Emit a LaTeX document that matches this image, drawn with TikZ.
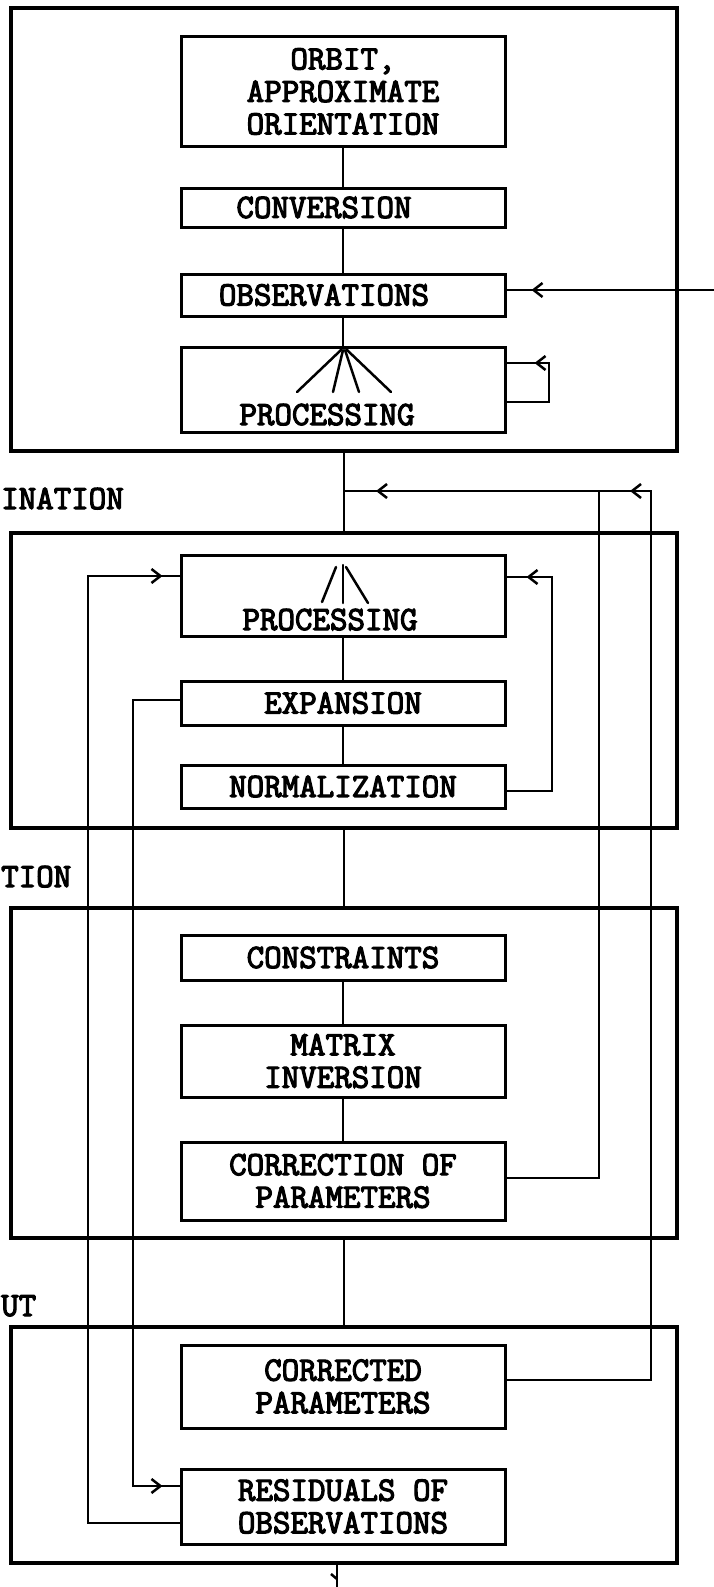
\documentclass[tikz,border=0pt]{standalone}
\usepackage{fontspec}
\usetikzlibrary{arrows.meta,decorations.markings}
\newfontfamily\twfam{Latin Modern Mono}[FakeBold=3.5]
\newcommand{\twfont}{\fontsize{34}{32.5}\twfam\selectfont}
\begin{document}
\begin{tikzpicture}[x=1pt,y=-1pt,
  boxst/.style={draw, line width=3pt, minimum width=324pt, inner sep=0pt,
    font=\twfont, align=center},
  outerst/.style={draw, line width=3.2pt, minimum width=666pt, inner sep=0pt},
  txtst/.style={inner sep=0pt, font=\twfont},
  conn/.style={line width=2.5pt},
  fanst/.style={line width=2.5pt, line cap=round},
  barbtip/.tip={Straight Barb[length=9pt,width=14pt]},
  arrat/.style={postaction={decorate}, decoration={markings,
    mark=at position #1 with {\arrow{barbtip}}}},
  arrtwo/.style 2 args={postaction={decorate}, decoration={markings,
    mark=at position #1 with {\arrow{barbtip}},
    mark=at position #2 with {\arrow{barbtip}}}}
]
\useasboundingbox (0,0) rectangle (714,1587);

% outer frames
\node[outerst, minimum height=443pt] (B1) at (344,229.5) {};
\node[outerst, minimum height=295pt] (B2) at (344,680.5) {};
\node[outerst, minimum height=330pt] (B3) at (344,1073) {};
\node[outerst, minimum height=236pt] (B4) at (344,1445) {};

% section labels at the left edge
\node[txtst, anchor=base west] (L1) at (1,509) {INATION};
\node[txtst, anchor=base west] (L2) at (1,887) {TION};
\node[txtst, anchor=base west] (L3) at (1,1316) {UT};

% blocks
\node[boxst, minimum height=109pt] (orbit) at (343,91.5) {ORBIT,\\APPROXIMATE\\ORIENTATION};
\node[boxst, minimum height=39pt] (conv) at (343,207.5) {CONVERSION\hspace*{38pt}};
\node[boxst, minimum height=42pt] (obs) at (343,295) {OBSERVATIONS\hspace*{38pt}};
\node[boxst, minimum height=85pt] (proc1) at (343,389.5) {};
\node[txtst, anchor=base] (p1t) at (327,425) {PROCESSING};

\node[boxst, minimum height=81pt] (proc2) at (343,595.5) {};
\node[txtst, anchor=base] (p2t) at (330,630) {PROCESSING};
\node[boxst, minimum height=44pt] (expn) at (343,703) {EXPANSION};
\node[boxst, minimum height=43pt] (norm) at (343,786.5) {NORMALIZATION};

\node[boxst, minimum height=45pt] (cons) at (343,957.5) {CONSTRAINTS};
\node[boxst, minimum height=72pt] (matrix) at (343,1061) {MATRIX\\INVERSION};
\node[boxst, minimum height=78pt] (corr) at (343,1181) {CORRECTION OF\\PARAMETERS};

\node[boxst, minimum height=83pt] (cpar) at (343,1386.5) {CORRECTED\\PARAMETERS};
\node[boxst, minimum height=75pt] (resid) at (343,1506.5) {RESIDUALS OF\\OBSERVATIONS};

% main flow
\draw[conn] (orbit.south) -- (conv.north);
\draw[conn] (conv.south) -- (obs.north);
\draw[conn] (obs.south) -- (proc1.north);
\draw[conn] (B1.south) -- (B2.north);
\draw[conn] (proc2.south) -- (expn.north);
\draw[conn] (expn.south) -- (norm.north);
\draw[conn] (B2.south) -- (B3.north);
\draw[conn] (cons.south) -- (matrix.north);
\draw[conn] (matrix.south) -- (corr.north);
\draw[conn] (B3.south) -- (B4.north);

% fans inside processing blocks
\draw[fanst] (341,350) -- (297,392);
\draw[fanst] (343,350) -- (333,392);
\draw[fanst] (345,350) -- (359,392);
\draw[fanst] (347,350) -- (391,392);
\draw[fanst] (336,567) -- (322,602);
\draw[fanst] (343,565) -- (343,603);
\draw[fanst] (346,567) -- (368,603);

% input to observations
\coordinate (inp) at (714,290);
\draw[conn, arrat=-25pt] (inp) -- (inp -| obs.east);

% self loop on first processing
\coordinate (lp1a) at (549,402);
\coordinate (lp1b) at (549,363);
\draw[conn, arrat=-28pt] (lp1a -| proc1.east) -- (lp1a) -- (lp1b) -- (lp1b -| proc1.east);

% normalization loop back to processing
\coordinate (lc) at (552,791);
\coordinate (lct) at (552,577);
\draw[conn, arrat=-20pt] (lc -| norm.east) -- (lc) -- (lct) -- (lct -| proc2.east);

% return lines from corrections
\coordinate (ra) at (651,1380);
\coordinate (rt) at (651,491);
\draw[conn, arrtwo={-286pt}{-32pt}] (ra -| cpar.east) -- (ra) -- (rt) -- (rt -| B1.south);
\coordinate (rb) at (599,1178);
\coordinate (rbt) at (599,491);
\draw[conn] (rb -| corr.east) -- (rb) -- (rbt);

% left-side lines
\coordinate (la) at (88,1523);
\coordinate (lat) at (88,576);
\draw[conn, arrat=-17pt] (la -| resid.west) -- (la) -- (lat) -- (lat -| proc2.west);
\coordinate (lb) at (133,700);
\coordinate (lbb) at (133,1486);
\draw[conn, arrat=-17pt] (lb -| expn.west) -- (lb) -- (lbb) -- (lbb -| resid.west);

% output stub
\coordinate (outend) at (337,1587);
\coordinate (hook) at (331,1574);
\draw[conn] (B4.south -| outend) -- (outend);
\draw[conn] (hook) -- (337,1579);
\end{tikzpicture}
\end{document}
